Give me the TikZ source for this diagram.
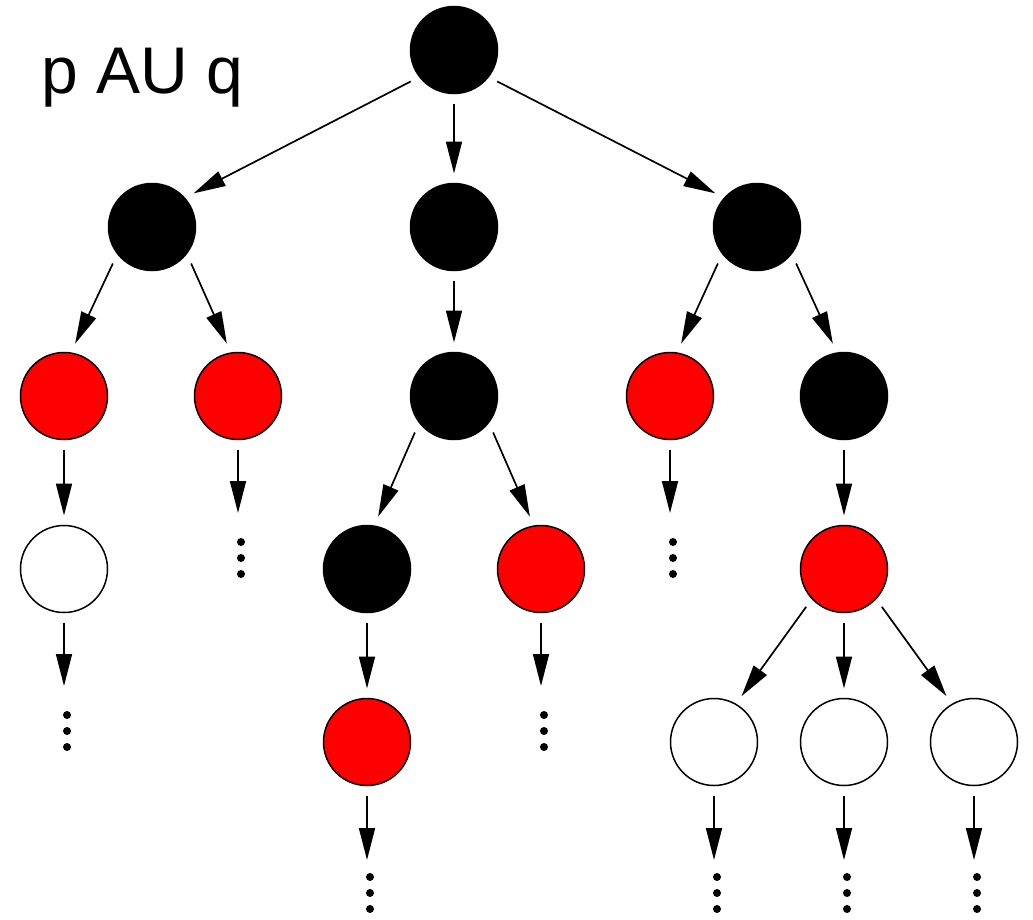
\documentclass[tikz,border=0pt]{standalone}
\usepackage{fontspec}
\setmainfont{Liberation Sans}
\usetikzlibrary{arrows.meta}
\tikzset{
  nd/.style={circle, draw=black, line width=1.5pt, minimum size=87pt, inner sep=0pt, outer sep=10pt},
  blk/.style={nd, fill=black},
  rdn/.style={nd, fill=red},
  wht/.style={nd, fill=white},
  arr/.style={line width=1.7pt, -{Triangle[length=32pt,width=16pt]}},
  dts/.style={rectangle, minimum width=16pt, minimum height=70pt, inner sep=0pt, outer sep=10pt,
    path picture={\foreach \k in {-16pt,0pt,16pt} \fill ([shift={(3pt,\k)}]path picture bounding box.center) circle (4pt);}},
  dtsb/.style={dts, minimum height=46pt}
}
\begin{document}
\begin{tikzpicture}[x=1pt,y=-1pt]
\useasboundingbox (0,0) rectangle (1033,919);
\node[font=\fontsize{66}{66}\selectfont, anchor=base west, inner sep=0pt] (title) at (41,93) {p AU q};
% level 0
\node[blk] (root) at (454,50) {};
% level 1
\node[blk] (L) at (152,227) {};
\node[blk] (M) at (454,227) {};
\node[blk] (R) at (757,227) {};
% level 2
\node[rdn] (r1) at (64,396) {};
\node[rdn] (r2) at (238,396) {};
\node[blk] (m2) at (454,396) {};
\node[rdn] (r3) at (670,396) {};
\node[blk] (b3) at (844,396) {};
% level 3
\node[wht] (w1) at (64,569) {};
\node[dts] (d2) at (238,558) {};
\node[blk] (b4) at (367,569) {};
\node[rdn] (r4) at (541,569) {};
\node[dts] (d3) at (670,558) {};
\node[rdn] (r6) at (844,569) {};
% level 4
\node[dts] (d1) at (64,731) {};
\node[rdn] (r5) at (367,742) {};
\node[dts] (d4) at (541,731) {};
\node[wht] (w2) at (714,742) {};
\node[wht] (w3) at (844,742) {};
\node[wht] (w4) at (974,742) {};
% level 5
\node[dtsb] (d5) at (367,893) {};
\node[dtsb] (d6) at (714,893) {};
\node[dtsb] (d7) at (844,893) {};
\node[dtsb] (d8) at (974,893) {};
% edges
\draw[arr] (root.216) -- (L.39);
\draw[arr] (root) -- (M);
\draw[arr] (root.-36) -- (R.141);
\draw[arr] (L.223) -- (r1.78);
\draw[arr] (L.-43) -- (r2.102);
\draw[arr] (M) -- (m2);
\draw[arr] (R.223) -- (r3.78);
\draw[arr] (R.-43) -- (b3.102);
\draw[arr] (r1) -- (w1);
\draw[arr] (w1) -- (d1);
\draw[arr] (r2) -- (d2);
\draw[arr] (m2.223) -- (b4.78);
\draw[arr] (m2.-43) -- (r4.102);
\draw[arr] (b4) -- (r5);
\draw[arr] (r5) -- (d5);
\draw[arr] (r4) -- (d4);
\draw[arr] (r3) -- (d3);
\draw[arr] (b3) -- (r6);
\draw[arr] (r6.225) -- (w2.59);
\draw[arr] (r6) -- (w3);
\draw[arr] (r6.-45) -- (w4.121);
\draw[arr] (w2) -- (d6);
\draw[arr] (w3) -- (d7);
\draw[arr] (w4) -- (d8);
\end{tikzpicture}
\end{document}
